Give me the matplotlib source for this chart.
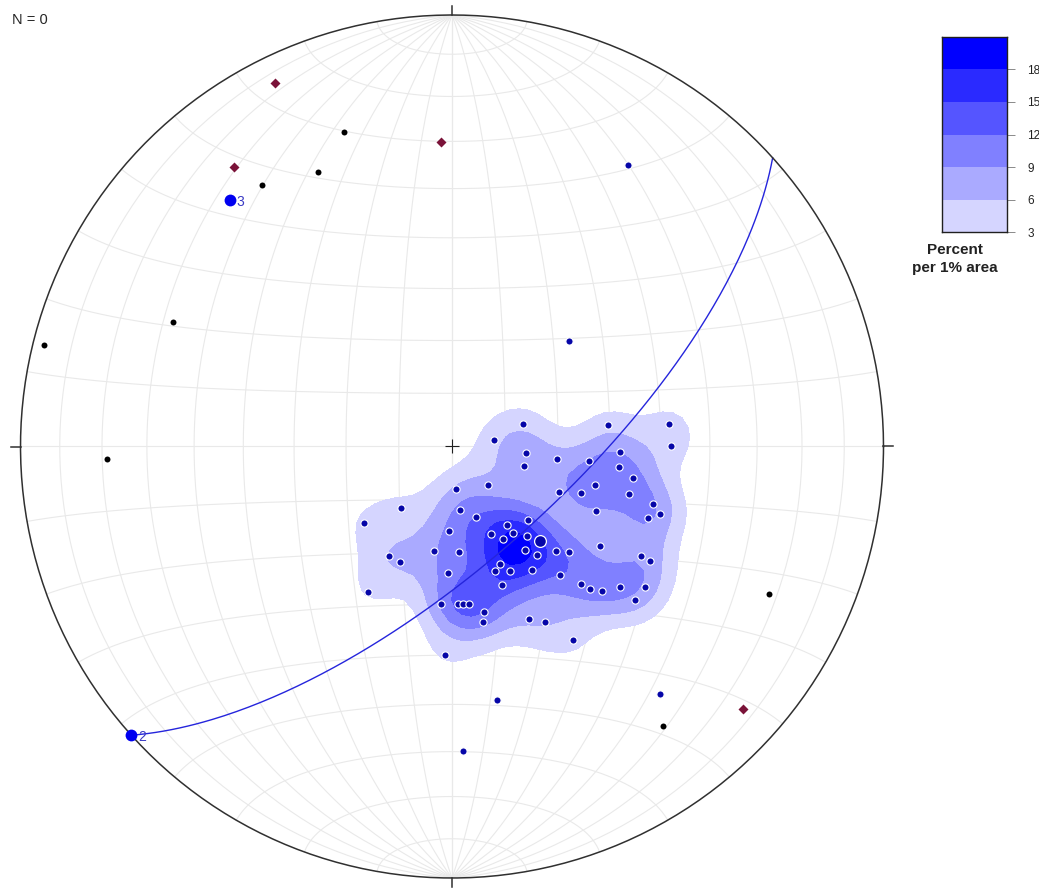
# lower-hemisphere equal-area net with density contours of the pole data

import numpy as np
import matplotlib.pyplot as plt
from matplotlib.colors import ListedColormap, BoundaryNorm

plt.rcParams['font.family'] = ['Liberation Sans', 'DejaVu Sans']

# poles (trend, plunge) in degrees
blue_trend = [72, 82, 84, 81, 90, 95, 97, 96, 92, 105, 97, 100, 137, 174,
              113, 110, 105, 105, 106, 108, 110, 114, 220, 229, 173, 161, 182,
              145, 134, 156, 145, 151, 140, 145, 142, 135, 132, 124, 120, 120,
              190, 176, 210, 204, 158, 161, 155, 147, 140, 182, 160, 137, 136,
              134, 130, 126, 130, 210, 184, 178, 176, 174, 169, 170, 156, 152,
              148, 182, 32, 48, 170, 140, 178]
blue_plunge = [76, 60, 48, 82, 48, 76, 70, 64, 58, 76, 58, 55, 80, 82,
               68, 64, 62, 55, 50, 48, 50, 60, 75, 68, 78, 76, 74,
               72, 70, 72, 70, 70, 68, 66, 64, 62, 60, 56, 48, 46,
               70, 70, 66, 66, 66, 65, 64, 62, 58, 66, 62, 54, 52,
               50, 48, 44, 44, 58, 60, 60, 60, 60, 58, 56, 54, 52,
               46, 50, 24, 60, 40, 26, 30]

black_trend = [341, 334, 324, 294, 284, 268, 115, 143]
black_plunge = [24, 30, 26, 30, 3, 21, 20, 20]

diamond_trend = [334, 358, 322, 132]
diamond_plunge = [7, 30, 19, 10]

# eigenvectors 1-3
eigen_trend = [137, 228, 318]
eigen_plunge = [65.5, 0, 24]

# best-fit plane (strike, dip, right-hand rule)
plane_strike = 48
plane_dip = 69

levels = [3, 6, 9, 12, 15, 18]


def project(e, n, d):
    k = 1.0 / np.sqrt(1.0 + d)
    return e * k, n * k


def line_xy(trend, plunge):
    t = np.radians(np.asarray(trend, float))
    p = np.radians(np.asarray(plunge, float))
    return project(np.cos(p) * np.sin(t), np.cos(p) * np.cos(t), np.sin(p))


def great_circle(strike, dip, n=200):
    s = np.radians(strike)
    dd = np.radians(strike + 90)
    dp = np.radians(dip)
    a = np.linspace(0, np.pi, n)
    e = np.cos(a) * np.sin(s) + np.sin(a) * np.cos(dp) * np.sin(dd)
    nn = np.cos(a) * np.cos(s) + np.sin(a) * np.cos(dp) * np.cos(dd)
    d = np.sin(a) * np.sin(dp)
    return project(e, nn, np.clip(d, 0, None))


def small_circle_ns(phi, n=200):
    # cone about the N-S axis, half-angle phi from north
    ph = np.radians(phi)
    b = np.linspace(0, np.pi, n)
    e = np.sin(ph) * np.cos(b)
    nn = np.full_like(b, np.cos(ph))
    d = np.sin(ph) * np.sin(b)
    return project(e, nn, d)


fig = plt.figure(figsize=(10.39, 8.90), dpi=100)

L = 1.03
R_px = 431.5
cx, cy = 452, 446.5
size = 2 * L * R_px
ax = fig.add_axes([(cx - L * R_px) / 1039, (890 - cy - L * R_px) / 890,
                   size / 1039, size / 890])
ax.set_xlim(-L, L)
ax.set_ylim(-L, L)
ax.axis('off')

# density, percent per 1% area
bx, by = line_xy(blue_trend, blue_plunge)
gx, gy = np.meshgrid(np.linspace(-1, 1, 91), np.linspace(-1, 1, 91))
sigma = 0.054
dens = np.zeros_like(gx)
for x, y in zip(bx, by):
    dens += np.exp(-((gx - x) ** 2 + (gy - y) ** 2) / (2 * sigma ** 2))
dens /= 2 * len(bx) * sigma ** 2
dens[gx ** 2 + gy ** 2 > 1] = np.nan

colors = [(1 - k / 6, 1 - k / 6, 1.0) for k in range(1, 7)]
cmap = ListedColormap(colors)
bounds = levels + [21]
norm = BoundaryNorm(bounds, cmap.N)
ax.contourf(gx, gy, dens, levels=levels + [1000], colors=colors, zorder=1)

# net grid
gcol = '#e9e9e9'
for dip in range(10, 91, 10):
    for strike in (0, 180):
        x, y = great_circle(strike, dip)
        ax.plot(x, y, color=gcol, lw=0.8, zorder=0.5)
for phi in list(range(10, 90, 10)) + [90] + list(range(100, 180, 10)):
    x, y = small_circle_ns(phi)
    ax.plot(x, y, color=gcol, lw=0.8, zorder=0.5)

# primitive and ticks
th = np.linspace(0, 2 * np.pi, 400)
ax.plot(np.cos(th), np.sin(th), color='#303030', lw=1.1, zorder=5)
for ang in range(0, 360, 90):
    a = np.radians(ang)
    ax.plot([np.sin(a), 1.021 * np.sin(a)], [np.cos(a), 1.021 * np.cos(a)],
            color='#303030', lw=1.1, zorder=5, clip_on=False)
ax.plot(0, 0, marker='+', ms=10, mew=0.8, color='#202020', zorder=6)

# plane
x, y = great_circle(plane_strike, plane_dip)
ax.plot(x, y, color='#2525dc', lw=1.0, zorder=4)

# data
ax.plot(bx, by, 'o', ms=5.2, mfc='#0606a8', mec='white', mew=0.8, zorder=7)
x, y = line_xy(black_trend, black_plunge)
ax.plot(x, y, 'o', ms=4.3, color='black', mec='none', zorder=7)
x, y = line_xy(diamond_trend, diamond_plunge)
ax.plot(x, y, 'D', ms=4.8, color='#7a1238', mec='none', zorder=7)

ex, ey = line_xy(eigen_trend, eigen_plunge)
ax.plot(ex[0], ey[0], 'o', ms=8.5, mfc='#0606a8', mec='white', mew=0.9, zorder=8)
ax.plot(ex[1:], ey[1:], 'o', ms=8.5, color='#0000f0', mec='none', zorder=8,
        clip_on=False)
for i in (1, 2):
    ax.annotate(str(i + 1), (ex[i], ey[i]), xytext=(5, -1.5),
                textcoords='offset points', ha='left', va='center',
                fontsize=10, color='#3b3bc4', zorder=9)

fig.text(12 / 1039, 1 - 20 / 890, 'N = 0', fontsize=10.5, ha='left',
         va='center', color='#262626')

# colour scale
cax = fig.add_axes([941.7 / 1039, 1 - 232.3 / 890, 65.6 / 1039, 195.6 / 890])
mids = np.array([(a + b) / 2 for a, b in zip(bounds[:-1], bounds[1:])])
cax.pcolormesh([0, 1], bounds, mids[:, None], cmap=cmap, norm=norm)
cax.set_xticks([])
cax.yaxis.tick_right()
cax.set_yticks(levels)
cax.set_ylim(3, 21)
cax.tick_params(axis='y', length=5.5, width=0.6, color='#777777',
                labelsize=8.5, pad=9, labelcolor='#222222')
for sp in cax.spines.values():
    sp.set_color('#202020')
    sp.set_linewidth(1.0)

fig.text(955 / 1039, 1 - 250 / 890, 'Percent', ha='center', va='center',
         fontsize=11, fontweight='bold', color='#222222')
fig.text(955 / 1039, 1 - 268 / 890, 'per 1% area', ha='center', va='center',
         fontsize=11, fontweight='bold', color='#222222')

fig.savefig('out.png', dpi=100)
